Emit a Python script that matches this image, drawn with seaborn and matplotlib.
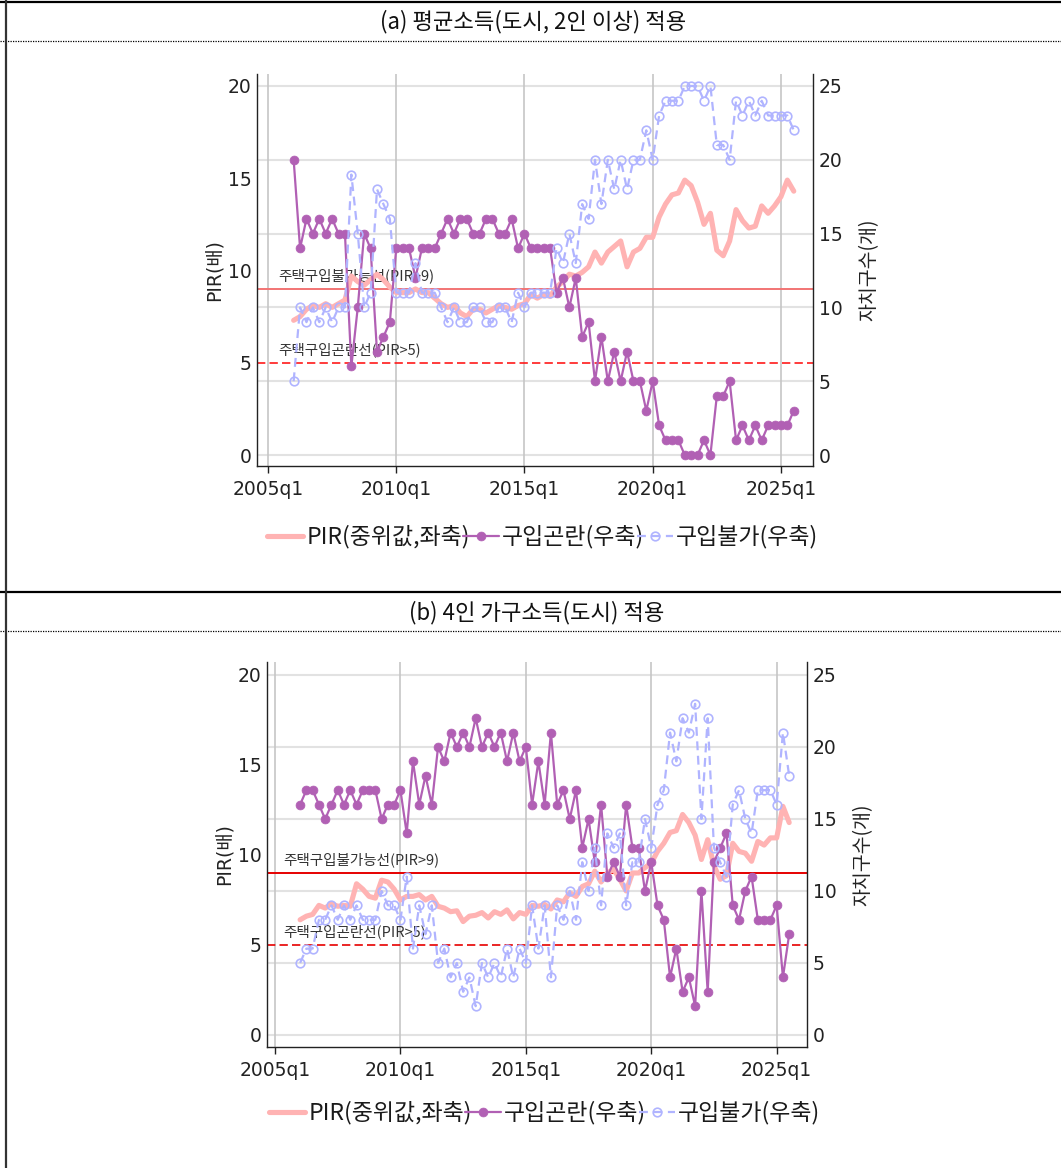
import numpy as np
import pandas as pd
import matplotlib
matplotlib.use("Agg")
import matplotlib.pyplot as plt
from matplotlib.lines import Line2D
import seaborn as sns

# ---------------- data ----------------
quarters = pd.period_range("2006Q1", "2025Q3", freq="Q")
x_tick_years = [2005, 2010, 2015, 2020, 2025]
x_tick_labels = ["2005q1", "2010q1", "2015q1", "2020q1", "2025q1"]
left_ticks = [0, 5, 10, 15, 20]
right_ticks = [0, 5, 10, 15, 20, 25]

# panel (a): 평균소득(도시, 2인 이상)
pir_a = [7.3, 7.5, 7.9, 8.1, 8.0, 8.2, 8.0, 8.2, 8.4, 9.7,
         9.4, 9.2, 9.5, 9.8, 9.5, 9.1, 8.8, 8.8, 8.8, 9.0,
         8.8, 8.8, 8.5, 8.2, 8.0, 8.1, 7.7, 7.5, 7.9, 7.9,
         7.7, 7.9, 8.1, 8.0, 7.9, 8.1, 8.2, 8.7,
         8.5, 8.7, 8.6, 9.1, 9.4, 9.8, 9.7, 9.9, 10.2, 11.0,
         10.4, 11.0, 11.3, 11.6, 10.2, 11.0, 11.2, 11.8, 11.8, 12.9,
         13.6, 14.1, 14.2, 14.9, 14.6, 13.7, 12.5, 13.1, 11.1, 10.8,
         11.6, 13.3, 12.7, 12.3, 12.4, 13.5, 13.1, 13.5, 14.0, 14.9,
         14.3]
difficult_a = [20, 14, 16, 15, 16, 15, 16, 15, 15, 6,
               10, 15, 14, 7, 8, 9, 14, 14, 14, 12,
               14, 14, 14, 15, 16, 15, 16, 16, 15, 15,
               16, 16, 15, 15, 16, 14, 15, 14,
               14, 14, 14, 11, 12, 10, 12, 8, 9, 5,
               8, 5, 7, 5, 7, 5, 5, 3, 5, 2,
               1, 1, 1, 0, 0, 0, 1, 0, 4, 4,
               5, 1, 2, 1, 2, 1, 2, 2, 2, 2,
               3]
impossible_a = [5, 10, 9, 10, 9, 10, 9, 10, 10, 19,
                15, 10, 11, 18, 17, 16, 11, 11, 11, 13,
                11, 11, 11, 10, 9, 10, 9, 9, 10, 10,
                9, 9, 10, 10, 9, 11, 10, 11,
                11, 11, 11, 14, 13, 15, 13, 17, 16, 20,
                17, 20, 18, 20, 18, 20, 20, 22, 20, 23,
                24, 24, 24, 25, 25, 25, 24, 25, 21, 21,
                20, 24, 23, 24, 23, 24, 23, 23, 23, 23,
                22]

# panel (b): 4인 가구소득(도시)
pir_b = [6.4, 6.6, 6.7, 7.2, 7.05, 7.3, 7.15, 7.2, 7.15, 8.4,
         8.1, 7.7, 7.6, 8.6, 8.5, 8.1, 7.5, 7.7, 7.7, 7.8,
         7.5, 7.7, 7.15, 7.05, 6.85, 6.9, 6.3, 6.6, 6.65, 6.8,
         6.5, 6.85, 6.7, 6.95, 6.45, 6.8, 6.7, 7.2,
         7.15, 7.25, 7.0, 7.5, 7.4, 7.9, 7.7, 8.25, 8.4, 9.1,
         8.5, 9.0, 9.2, 8.65, 8.0, 9.0, 9.0, 9.3, 9.55, 10.2,
         10.65, 11.25, 11.35, 12.25, 11.8, 11.1, 9.75, 10.85, 9.4, 8.65,
         8.85, 10.65, 10.2, 10.1, 9.65, 10.75, 10.55, 10.95, 10.95, 12.7,
         11.8]
difficult_b = [16, 17, 17, 16, 15, 16, 17, 16, 17, 16,
               17, 17, 17, 15, 16, 16, 17, 14, 19, 16,
               18, 16, 20, 19, 21, 20, 21, 20, 22, 20,
               21, 20, 21, 19, 21, 19, 20, 16,
               19, 16, 21, 16, 17, 15, 17, 13, 15, 12,
               16, 11, 12, 11, 16, 13, 13, 10, 12, 9,
               8, 4, 6, 3, 4, 2, 10, 3, 12, 13,
               14, 9, 8, 10, 11, 8, 8, 8, 9, 4,
               7]
impossible_b = [5, 6, 6, 8, 8, 9, 8, 9, 8, 9,
                8, 8, 8, 10, 9, 9, 8, 11, 6, 9,
                7, 9, 5, 6, 4, 5, 3, 4, 2, 5,
                4, 5, 4, 6, 4, 6, 5, 9,
                6, 9, 4, 9, 8, 10, 8, 12, 10, 13,
                9, 14, 13, 14, 9, 12, 12, 15, 13, 16,
                17, 21, 19, 22, 21, 23, 15, 22, 13, 12,
                11, 16, 17, 15, 14, 17, 17, 17, 16, 21,
                18]

titles = ["(a) 평균소득(도시, 2인 이상) 적용", "(b) 4인 가구소득(도시) 적용"]
legend_labels = ["PIR(중위값,좌축)", "구입곤란(우축)", "구입불가(우축)"]
line9_label = "주택구입불가능선(PIR>9)"
line5_label = "주택구입곤란선(PIR>5)"
left_ylabel = "PIR(배)"
right_ylabel = "자치구수(개)"

# ---------------- style ----------------
sns.set_theme(style="white")
plt.rcParams["font.family"] = ["DejaVu Sans", "Noto Sans CJK KR"]
KR = ["Noto Sans CJK KR", "DejaVu Sans"]

PINK = "#ffb3b3"
PURPLE = "#b160b4"
BLUE = "#b0b4ff"
TXT = "#222222"

W, H = 1061, 1168
fig = plt.figure(figsize=(W / 100, H / 100), dpi=100)
fig.patch.set_facecolor("white")

xnum = np.array([p.year + (p.quarter - 1) / 4 for p in quarters])
ratio = right_ticks[-1] / left_ticks[-1]


def fy(y):
    return 1 - y / H


def panel(rect_px, xlim, ylim, pir, diff, imp, c9, c5, ann_x, leg_xy):
    l, t, r, b = rect_px
    ax = fig.add_axes([l / W, fy(b), (r - l) / W, (b - t) / H])
    ax2 = ax.twinx()
    ax.set_xlim(*xlim)
    ax.set_ylim(*ylim)
    ax2.set_ylim(ylim[0] * ratio, ylim[1] * ratio)

    # grid
    for v in right_ticks:
        ax.axhline(v / ratio, color="#e2e2e2", lw=1.5, zorder=0)
    for xv in x_tick_years:
        ax.axvline(xv, color="#c6c6c6", lw=1.2, zorder=0.5)

    # reference lines
    ax.axhline(9, color=c9, lw=1.4, zorder=1)
    ax.axhline(5, color=c5, lw=1.2, ls=(0, (5, 2.5)), zorder=1)
    ax.text(ann_x, 9.3, line9_label, fontsize=10.5, color="#333333",
            family=KR, va="bottom", ha="left", zorder=1.2)
    ax.text(ann_x, 5.3, line5_label, fontsize=10.5, color="#333333",
            family=KR, va="bottom", ha="left", zorder=1.2)

    sns.lineplot(x=xnum, y=pir, ax=ax, color=PINK, lw=3.7, legend=False,
                 zorder=3)
    h1 = ax.lines[-1]
    sns.lineplot(x=xnum, y=diff, ax=ax2, color=PURPLE, lw=1.6, marker="o",
                 markersize=6.4, markeredgecolor=PURPLE, markeredgewidth=0.5,
                 legend=False, zorder=3)
    h2 = ax2.lines[-1]
    sns.lineplot(x=xnum, y=imp, ax=ax2, color=BLUE, lw=1.6,
                 linestyle=(0, (4, 2.5)), marker="o", markersize=6.2,
                 markerfacecolor="none", markeredgecolor=BLUE,
                 markeredgewidth=1.2, legend=False, zorder=4)
    h3 = ax2.lines[-1]

    ax.set_xticks(x_tick_years)
    ax.set_xticklabels(x_tick_labels)
    ax.set_yticks(left_ticks)
    ax2.set_yticks(right_ticks)
    ax.grid(False)
    ax2.grid(False)
    ax.set_xlabel("")
    ax2.set_xlabel("")

    ax.spines["top"].set_visible(False)
    ax.spines["right"].set_visible(False)
    for s in ["top", "left", "bottom"]:
        ax2.spines[s].set_visible(False)
    for s in ["left", "bottom"]:
        ax.spines[s].set_color(TXT)
        ax.spines[s].set_linewidth(1.0)
    ax2.spines["right"].set_color(TXT)
    ax2.spines["right"].set_linewidth(1.0)

    ax.tick_params(axis="x", bottom=True, length=5, width=1, direction="out",
                   pad=5, labelsize=13.5, colors=TXT)
    ax.tick_params(axis="y", left=True, length=0, pad=4, labelsize=13.5,
                   colors=TXT)
    ax2.tick_params(axis="y", right=True, length=0, pad=4, labelsize=13.5,
                    colors=TXT)

    ax.set_ylabel(left_ylabel, fontsize=13.5, labelpad=2, color=TXT)
    ax2.set_ylabel(right_ylabel, fontsize=14, labelpad=12, color=TXT,
                   family=KR)

    fig.legend([h1, h2, h3], legend_labels, loc="center",
               bbox_to_anchor=leg_xy, ncol=3, frameon=False,
               prop={"family": KR, "size": 16.5}, handlelength=1.55,
               handletextpad=0.15, columnspacing=-0.3,
               labelcolor="#1a1a1a")
    return ax, ax2


panel((257, 74, 813, 466), (2004.571, 2026.25), (-0.596, 20.65),
      pir_a, difficult_a, impossible_a, "#f27474", "#ff1a1a", 2005.39,
      (543 / W, fy(537)))
panel((267, 662, 807, 1047), (2004.68, 2026.21), (-0.667, 20.72),
      pir_b, difficult_b, impossible_b, "#e60000", "#e60000", 2005.32,
      (545 / W, fy(1113)))

# titles and frame lines
fig.text(533.5 / W, fy(22), titles[0], ha="center", va="center",
         fontsize=16, family=KR, color="#111111")
fig.text(537 / W, fy(613), titles[1], ha="center", va="center",
         fontsize=16, family=KR, color="#111111")

for yy, style, lw in [(2, "-", 1.6), (41, (0, (1, 1)), 0.9),
                      (592, "-", 1.6), (631, (0, (1, 1)), 0.9)]:
    fig.add_artist(Line2D([0, 1], [fy(yy), fy(yy)], transform=fig.transFigure,
                          color="black", lw=lw, ls=style))
fig.add_artist(Line2D([6 / W, 6 / W], [0, 1], transform=fig.transFigure,
                      color="#333333", lw=1.6))

fig.savefig("out.png", dpi=100)
